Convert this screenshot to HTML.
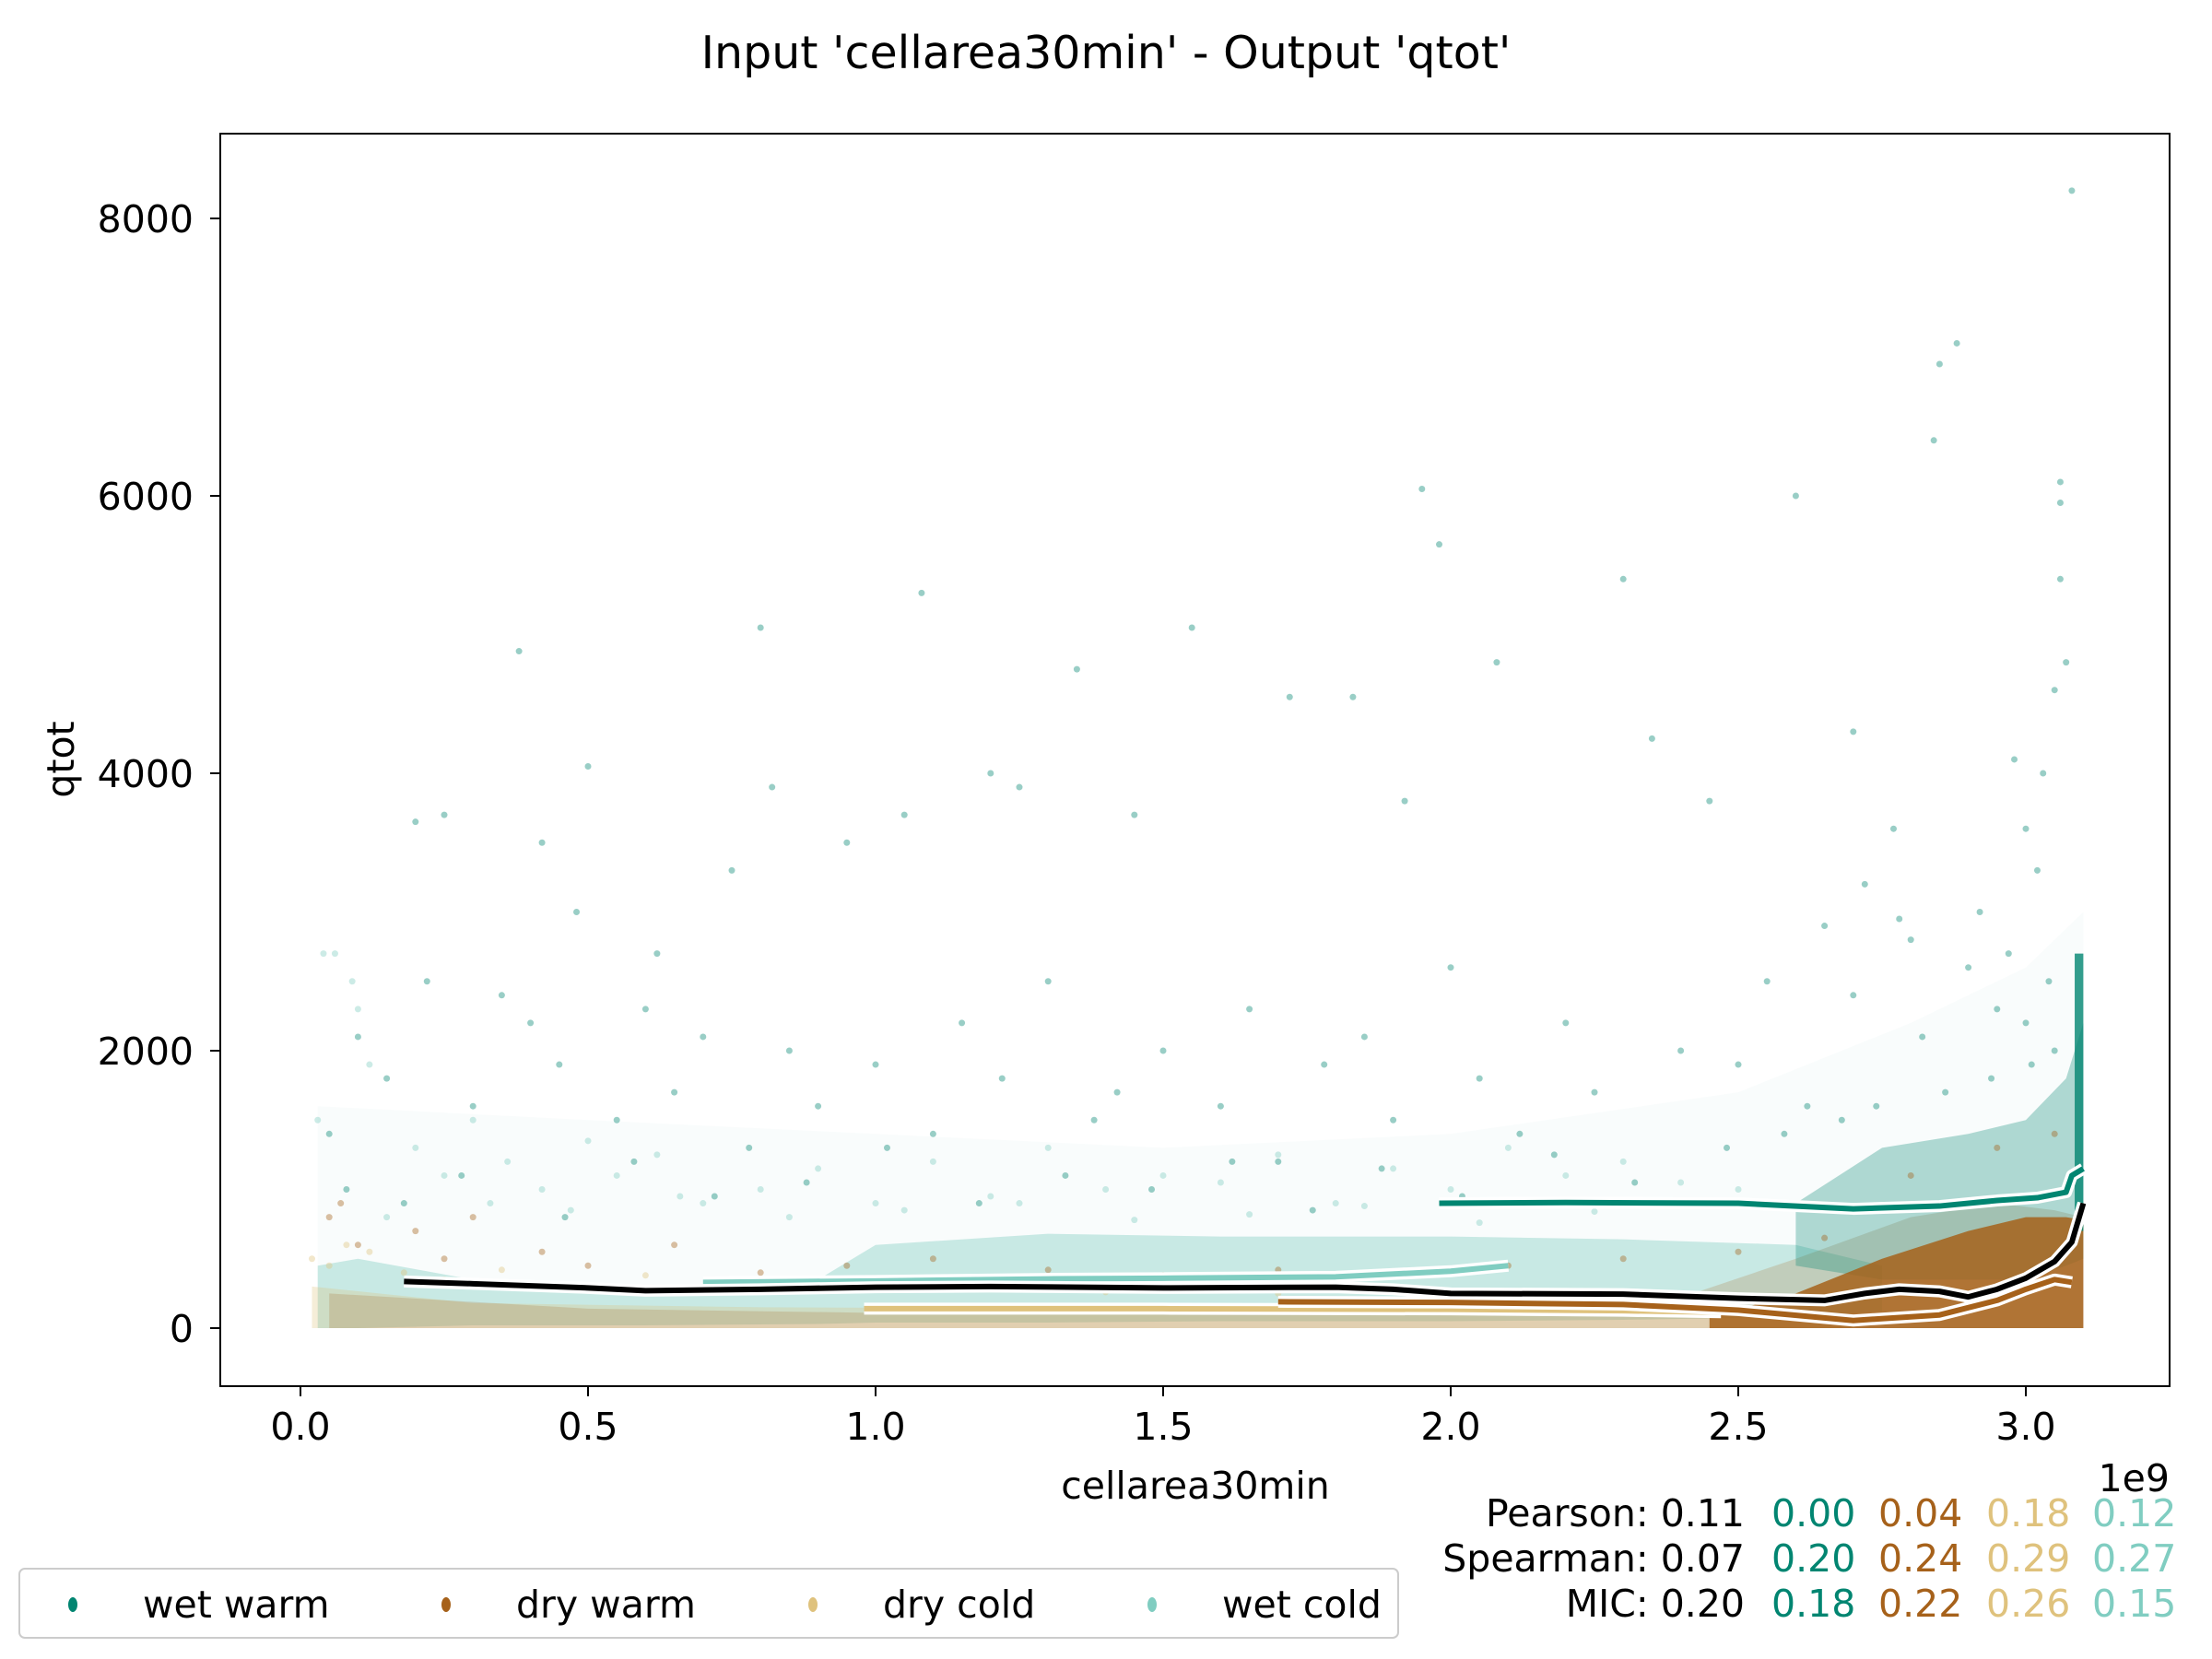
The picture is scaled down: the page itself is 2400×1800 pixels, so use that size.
<!DOCTYPE html>
<html><head><meta charset="utf-8"><style>
html,body{margin:0;padding:0;background:#fff;}
svg{display:block;font-family:"DejaVu Sans","Liberation Sans",sans-serif;}
</style></head><body>
<svg id="chart" width="2400" height="1800" viewBox="0 0 2400 1800" xmlns="http://www.w3.org/2000/svg">
<rect width="2400" height="1800" fill="#fff"/>
<text x="1200" y="74" text-anchor="middle" font-size="49">Input 'cellarea30min' - Output 'qtot'</text>
<defs><clipPath id="clip"><rect x="239" y="145" width="2115" height="1359"/></clipPath></defs>
<g id="bands" clip-path="url(#clip)"></g>
<g id="points" clip-path="url(#clip)"></g>
<g id="lines" clip-path="url(#clip)"></g>
<rect x="239" y="145" width="2115" height="1359" fill="none" stroke="#000" stroke-width="2"/>
<g id="xaxis"></g>
<g id="yaxis"></g>
<text x="1297" y="1626" text-anchor="middle" font-size="41">cellarea30min</text>
<text x="2354" y="1618" text-anchor="end" font-size="41">1e9</text>
<text transform="translate(80,824) rotate(-90)" text-anchor="middle" font-size="41">qtot</text>
<g font-size="41">
<text x="1893" y="1656" text-anchor="end">Pearson: 0.11</text>
<text x="1922" y="1656" fill="#018571">0.00</text>
<text x="2038" y="1656" fill="#a6611a">0.04</text>
<text x="2155" y="1656" fill="#dfc27d">0.18</text>
<text x="2270" y="1656" fill="#80cdc1">0.12</text>
<text x="1893" y="1705" text-anchor="end">Spearman: 0.07</text>
<text x="1922" y="1705" fill="#018571">0.20</text>
<text x="2038" y="1705" fill="#a6611a">0.24</text>
<text x="2155" y="1705" fill="#dfc27d">0.29</text>
<text x="2270" y="1705" fill="#80cdc1">0.27</text>
<text x="1893" y="1754" text-anchor="end">MIC: 0.20</text>
<text x="1922" y="1754" fill="#018571">0.18</text>
<text x="2038" y="1754" fill="#a6611a">0.22</text>
<text x="2155" y="1754" fill="#dfc27d">0.26</text>
<text x="2270" y="1754" fill="#80cdc1">0.15</text>
</g>
<g font-size="41">
<rect x="21" y="1702" width="1496" height="75" rx="6" fill="#fff" stroke="#ccc" stroke-width="2"/>
<g><ellipse cx="79" cy="1741" rx="5" ry="8" fill="#018571"/><text x="155" y="1755">wet warm</text></g>
<g><ellipse cx="484" cy="1741" rx="5" ry="8" fill="#a6611a"/><text x="560" y="1755">dry warm</text></g>
<g><ellipse cx="882" cy="1741" rx="5" ry="8" fill="#dfc27d"/><text x="958" y="1755">dry cold</text></g>
<g><ellipse cx="1250" cy="1741" rx="5" ry="8" fill="#80cdc1"/><text x="1326" y="1755">wet cold</text></g>
</g>
</svg>
<script>
const xTicks=[0,0.5,1.0,1.5,2.0,2.5,3.0];
const xTickLabels=["0.0","0.5","1.0","1.5","2.0","2.5","3.0"];
const yTicks=[0,2000,4000,6000,8000];
const yTickLabels=["0","2000","4000","6000","8000"];
// density bands: x (1e9), low, high
const hazeX=[0.03,0.5,1.0,1.5,2.0,2.5,2.8,3.0,3.1];
const hazeHi=[1600,1500,1400,1300,1400,1700,2200,2600,3000];
const ltBandX=[0.03,0.1,0.3,0.6,0.9,1.0,1.3,1.6,2.0,2.3,2.6,2.75];
const ltBandLo=[0,0,20,20,30,40,40,50,50,60,80,120];
const ltBandHi=[450,500,350,300,350,600,680,660,660,640,600,450];
const tanBandX=[0.02,0.3,0.8,1.5,2.0,2.5,2.7];
const tanBandHi=[300,180,150,140,130,120,80];
const brBandX=[0.05,0.5,1.0,1.5,2.0,2.4,2.6,2.8,2.95,3.05,3.1];
const brBandHi=[250,140,110,110,130,220,500,800,900,850,800];
const brDenseX=[2.45,2.6,2.75,2.9,3.0,3.07,3.1];
const brDenseHi=[80,250,500,700,800,800,780];
const tlDenseX=[2.6,2.75,2.9,3.0,3.07,3.1];
const tlDenseLo=[450,350,350,350,450,500];
const tlDenseHi=[900,1300,1400,1500,1800,2200];
const tlColX=[3.085,3.1];
const tlColLo=[700,700];
const tlColHi=[2700,2700];
// scatter points
const wetWarmX=[0.25,0.2,0.42,0.48,0.5,0.38,0.62,0.75,0.8,0.82,0.95,1.05,1.08,1.2,1.25,1.35,1.45,1.55,1.72,1.83,1.95,1.92,1.98,2.08,2.3,2.35,2.45,2.6,2.7,2.77,2.78,2.85,2.88,2.84,3.08,3.06,3.06,3.06,3.07,3.05,2.98,3.03,3.0,
0.05,0.1,0.15,0.22,0.3,0.35,0.4,0.45,0.55,0.6,0.65,0.7,0.78,0.85,0.9,1.0,1.1,1.15,1.22,1.3,1.38,1.42,1.5,1.6,1.65,1.7,1.78,1.85,1.9,2.0,2.05,2.12,2.2,2.25,2.4,2.5,2.55,2.62,2.65,2.7,2.72,2.8,2.82,2.9,2.92,2.95,2.97,3.0,3.02,3.04,
0.08,0.18,0.28,0.46,0.58,0.72,0.88,1.02,1.18,1.33,1.48,1.62,1.76,1.88,2.02,2.18,2.32,2.48,2.58,2.68,2.74,2.86,2.94,3.01,3.05];
const wetWarmY=[3700,3650,3500,3000,4050,4880,2700,3300,5050,3900,3500,3700,5300,4000,3900,4750,3700,5050,4550,4550,6050,3800,5650,4800,5400,4250,3800,6000,4300,3600,2950,6950,7100,6400,8200,6100,5950,5400,4800,4600,4100,4000,3600,
1400,2100,1800,2500,1600,2400,2200,1900,1500,2300,1700,2100,1300,2000,1600,1900,1400,2200,1800,2500,1500,1700,2000,1600,2300,1200,1900,2100,1500,2600,1800,1400,2200,1700,2000,1900,2500,1600,2900,2400,3200,2800,2100,2600,3000,2300,2700,2200,3300,2500,
1000,900,1100,800,1200,950,1050,1300,900,1100,1000,1200,850,1150,950,1250,1050,1300,1400,1500,1600,1700,1800,1900,2000];
const wetColdX=[0.03,0.06,0.1,0.12,0.2,0.25,0.3,0.36,0.42,0.5,0.55,0.62,0.7,0.8,0.9,1.0,1.1,1.2,1.3,1.4,1.5,1.6,1.7,1.8,1.9,2.0,2.1,2.2,2.3,2.4,2.5,0.15,0.33,0.47,0.66,0.85,1.05,1.25,1.45,1.65,1.85,2.05,2.25,2.45,0.04,0.09];
const wetColdY=[1500,2700,2300,1900,1300,1100,1500,1200,1000,1350,1100,1250,900,1000,1150,900,1200,950,1300,1000,1100,1050,1250,900,1150,1000,1300,1100,1200,1050,1000,800,900,850,950,800,850,900,780,820,880,760,840,900,2700,2500];
const dryWarmX=[0.05,0.07,0.1,0.2,0.25,0.3,0.42,0.5,0.65,0.8,0.95,1.1,1.3,1.5,1.7,1.9,2.1,2.3,2.5,2.65,2.8,2.95,3.05];
const dryWarmY=[800,900,600,700,500,800,550,450,600,400,450,500,420,380,420,400,450,500,550,650,1100,1300,1400];
const dryColdX=[0.02,0.05,0.08,0.12,0.18,0.25,0.35,0.45,0.6,0.75,0.9,1.1,1.4,1.7,2.0,2.3];
const dryColdY=[500,450,600,550,400,350,420,300,380,320,300,280,260,250,240,220];
// mean lines
const allLineX=[0.18,0.3,0.5,0.6,0.8,1.0,1.2,1.5,1.8,1.9,2.0,2.3,2.5,2.65,2.72,2.78,2.85,2.9,2.95,3.0,3.05,3.08,3.1];
const allLineY=[336,320,290,270,280,295,300,290,295,280,250,245,215,200,250,280,265,225,280,360,480,620,900];
const wetWarmLineX=[1.98,2.2,2.5,2.7,2.85,2.95,3.02,3.07,3.08,3.1];
const wetWarmLineY=[900,905,900,860,880,920,940,980,1100,1150];
const wetColdLineX=[0.7,1.0,1.3,1.5,1.8,2.0,2.1];
const wetColdLineY=[330,340,355,360,370,410,450];
const dryColdLineX=[0.98,1.5,2.0,2.3,2.47];
const dryColdLineY=[140,140,135,125,115];
const dryWarmLineX=[1.7,2.0,2.3,2.5,2.7,2.85,2.95,3.0,3.05,3.08];
const dryWarmLineY=[190,185,170,130,55,95,200,280,350,330];

const NS="http://www.w3.org/2000/svg";
const X=v=>326+624*v;
const Y=v=>1441-0.1505*v;
function mk(tag,parent,attrs){const e=document.createElementNS(NS,tag);for(const k in attrs)e.setAttribute(k,attrs[k]);parent.appendChild(e);return e;}
const xa=document.getElementById('xaxis'),ya=document.getElementById('yaxis');
xTicks.forEach((t,i)=>{
  const l=mk('line',xa,{x1:X(t),x2:X(t),y1:1504,y2:1515,stroke:'#000','stroke-width':2});
  
  
  const tx=mk('text',xa,{x:X(t),y:1562,'text-anchor':'middle','font-size':41});
  tx.textContent=xTickLabels[i];
  
  
});
yTicks.forEach((t,i)=>{
  const l=mk('line',ya,{x1:228,x2:239,y1:Y(t),y2:Y(t),stroke:'#000','stroke-width':2});
  
  
  const tx=mk('text',ya,{x:210,y:Y(t)+15,'text-anchor':'end','font-size':41});
  tx.textContent=yTickLabels[i];
  
  
});
const bg=document.getElementById('bands');
function band(xs,lo,hi,color,op,name){
  let d='M'+xs.map((x,i)=>X(x)+','+Y(hi[i])).join(' L');
  for(let i=xs.length-1;i>=0;i--)d+=' L'+X(xs[i])+','+Y(lo?lo[i]:0);
  const p=mk('path',bg,{d:d+'Z',fill:color,'fill-opacity':op});
  
  
}
band(hazeX,null,hazeHi,'#80cdc1',0.05,'wet-scatter-haze');
band(ltBandX,ltBandLo,ltBandHi,'#80cdc1',0.4,'wet-cold-density');
band(tanBandX,null,tanBandHi,'#dfc27d',0.3,'dry-cold-density');
band(brBandX,null,brBandHi,'#a6611a',0.2,'dry-warm-density');
band(tlDenseX,tlDenseLo,tlDenseHi,'#018571',0.3,'wet-warm-density');
band(brDenseX,null,brDenseHi,'#a6611a',0.85,'dry-warm-dense-core');
band(tlColX,tlColLo,tlColHi,'#018571',0.8,'wet-warm-column');
const pg=document.getElementById('points');
function pts(xs,ys,color,name){
  xs.forEach((x,i)=>{
    const c=mk('circle',pg,{cx:X(x),cy:Y(ys[i]),r:3.5,fill:color,'fill-opacity':0.4});
    
    
  });
}
pts(wetColdX,wetColdY,'#80cdc1','wet-cold-point');
pts(dryColdX,dryColdY,'#dfc27d','dry-cold-point');
pts(dryWarmX,dryWarmY,'#a6611a','dry-warm-point');
pts(wetWarmX,wetWarmY,'#018571','wet-warm-point');
const lg=document.getElementById('lines');
function line(xs,ys,color,name){
  const d='M'+xs.map((x,i)=>X(x)+','+Y(ys[i])).join(' L');
  const w=mk('path',lg,{d:d,fill:'none',stroke:'#fff','stroke-width':13,'stroke-linejoin':'round'});
  
  
  const p=mk('path',lg,{d:d,fill:'none',stroke:color,'stroke-width':6,'stroke-linejoin':'round'});
  
  
}
line(dryColdLineX,dryColdLineY,'#dfc27d','dry-cold-mean-line');
line(dryWarmLineX,dryWarmLineY,'#a6611a','dry-warm-mean-line');
line(wetColdLineX,wetColdLineY,'#80cdc1','wet-cold-mean-line');
line(allLineX,allLineY,'#000','all-mean-line');
line(wetWarmLineX,wetWarmLineY,'#018571','wet-warm-mean-line');
</script>
</body></html>
